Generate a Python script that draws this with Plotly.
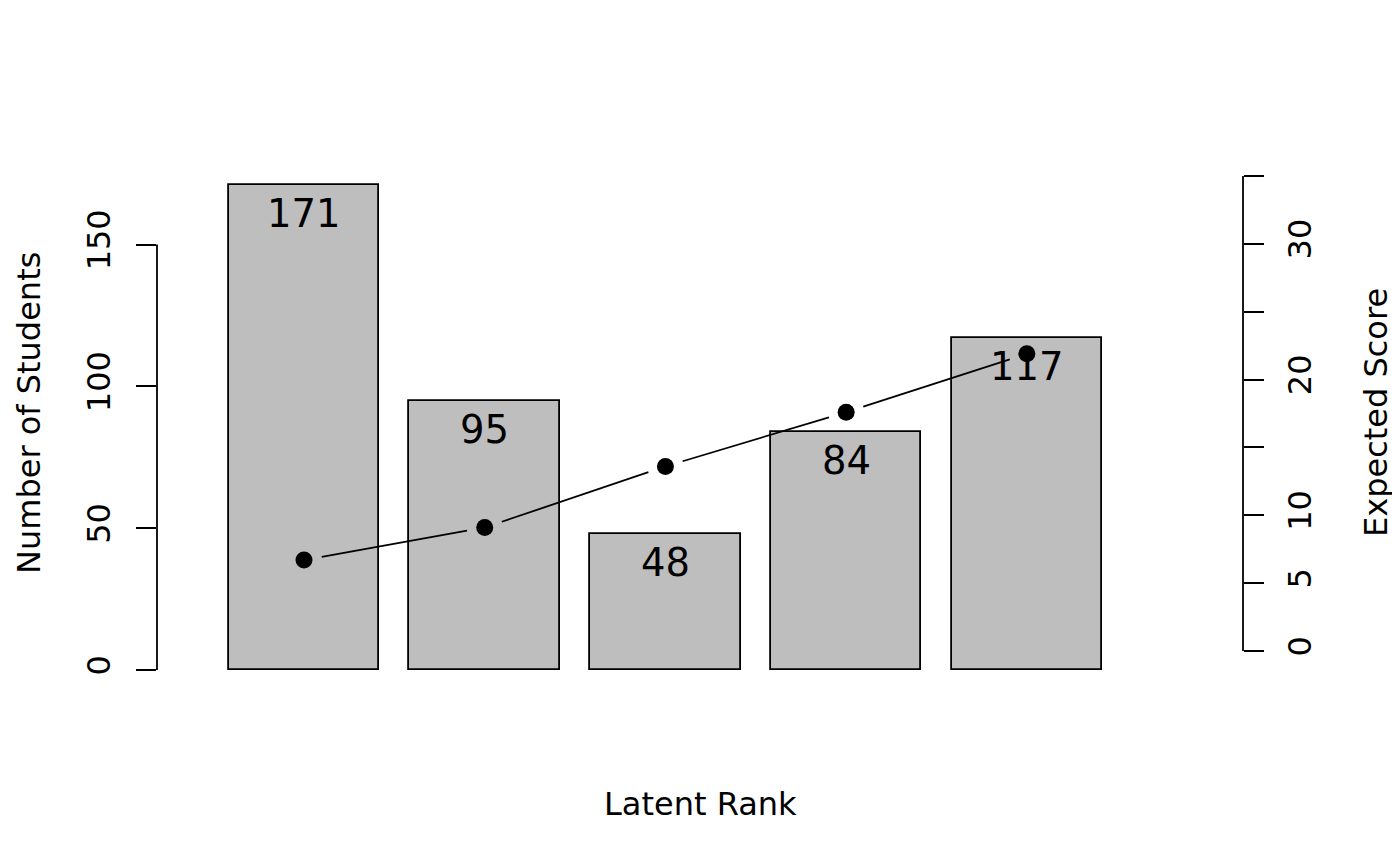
import math
import plotly.graph_objects as go

# ---- data ----
rank_labels = ["1", "2", "3", "4", "5"]
n_students = [171, 95, 48, 84, 117]
expected_score = [6.7, 9.1, 13.6, 17.6, 21.9]
left_tick_vals = [0, 50, 100, 150]
left_tick_text = ["0", "50", "100", "150"]
right_tick_vals = [0, 5, 10, 15, 20, 25, 30, 35]
right_tick_text = ["0", "5", "10", "", "20", "", "30", ""]

# ---- layout geometry (page offset of the html body compensated) ----
OFF = 8
W, H = 1400, 866
ML = 157 - OFF
MR = W - (1243 - OFF)
MT, MB = 100, 100
PW = W - ML - MR
PH = H - MT - MB

bar_width = 1.0
bar_space = 0.2
centers = [bar_space * (i + 1) + bar_width * (i + 0.5) for i in range(len(n_students))]

# axis scales (pixels per unit)
sx_ref = 150.6
sy_left = 2.836
sy_right = 13.571
x_range = [0.7 - (304 - 157) / sx_ref, 0.7 + (1243 - 304) / sx_ref]
top_px, bot_px = MT + OFF, H - MB + OFF
y_range = [(670 - bot_px) / sy_left, (670 - top_px) / sy_left]
y2_range = [(651 - bot_px) / sy_right, (651 - top_px) / sy_right]

FONT = "DejaVu Sans"
BLACK = "#000000"
FS = 32

fig = go.Figure()

fig.add_trace(go.Bar(
    x=centers, y=n_students, width=bar_width,
    marker=dict(color="#BEBEBE", line=dict(color=BLACK, width=1.8)),
    showlegend=False, hoverinfo="skip",
))

# line with gaps around points (R type = "b")
gap = 18.0
sx = PW / (x_range[1] - x_range[0])
sy = PH / (y2_range[1] - y2_range[0])
lx, ly = [], []
for i in range(len(centers) - 1):
    x1, y1 = centers[i], expected_score[i]
    x2, y2 = centers[i + 1], expected_score[i + 1]
    dxp, dyp = (x2 - x1) * sx, (y2 - y1) * sy
    L = math.hypot(dxp, dyp)
    if L <= 2 * gap:
        continue
    f = gap / L
    lx += [x1 + f * (x2 - x1), x2 - f * (x2 - x1), None]
    ly += [y1 + f * (y2 - y1), y2 - f * (y2 - y1), None]

fig.add_trace(go.Scatter(
    x=lx, y=ly, mode="lines", yaxis="y2",
    line=dict(color=BLACK, width=1.8), showlegend=False, hoverinfo="skip",
))
fig.add_trace(go.Scatter(
    x=centers, y=expected_score, mode="markers", yaxis="y2",
    marker=dict(color=BLACK, size=17), showlegend=False, hoverinfo="skip",
))

annotations = []
for xc, n in zip(centers, n_students):
    annotations.append(dict(
        x=xc, y=n, xref="x", yref="y", text=str(n), showarrow=False,
        xanchor="center", yanchor="top", yshift=-4,
        font=dict(family=FONT, size=38.5, color=BLACK),
    ))


def px_to_paper(px, py):
    return (px - OFF - ML) / PW, (H - MB - (py - OFF)) / PH


for text, (px, py), ang in [
    ("Number of Students", (29, 413), -90),
    ("Expected Score", (1376, 413), -90),
    ("Latent Rank", (700, 804), 0),
]:
    ax, ay = px_to_paper(px, py)
    annotations.append(dict(
        x=ax, y=ay, xref="paper", yref="paper", text=text, textangle=ang,
        showarrow=False, xanchor="center", yanchor="middle",
        font=dict(family=FONT, size=FS, color=BLACK),
    ))

shapes = [
    dict(type="line", xref="paper", yref="y", x0=0, x1=0,
         y0=left_tick_vals[0], y1=left_tick_vals[-1],
         line=dict(color=BLACK, width=1.8)),
    dict(type="line", xref="paper", yref="y2", x0=1, x1=1,
         y0=right_tick_vals[0], y1=right_tick_vals[-1],
         line=dict(color=BLACK, width=1.8)),
]

fig.update_layout(
    width=W, height=H,
    margin=dict(l=ML, r=MR, t=MT, b=MB, autoexpand=False),
    paper_bgcolor="white", plot_bgcolor="white",
    font=dict(family=FONT, size=FS, color=BLACK),
    xaxis=dict(range=x_range, visible=False, fixedrange=True),
    yaxis=dict(
        range=y_range, tickmode="array", tickvals=left_tick_vals, ticktext=left_tick_text,
        ticks="outside", ticklen=20, tickwidth=1.8, tickcolor=BLACK,
        tickangle=-90, ticklabelstandoff=13,
        showgrid=False, zeroline=False, showline=False,
        tickfont=dict(family=FONT, size=FS, color=BLACK),
    ),
    yaxis2=dict(
        range=y2_range, overlaying="y", side="right", anchor="x",
        tickmode="array", tickvals=right_tick_vals, ticktext=right_tick_text,
        ticks="outside", ticklen=20, tickwidth=1.8, tickcolor=BLACK,
        tickangle=-90, ticklabelstandoff=9,
        showgrid=False, zeroline=False, showline=False,
        tickfont=dict(family=FONT, size=FS, color=BLACK),
    ),
    annotations=annotations,
    shapes=shapes,
    showlegend=False,
    bargap=0,
)

fig.write_html("out.html")
